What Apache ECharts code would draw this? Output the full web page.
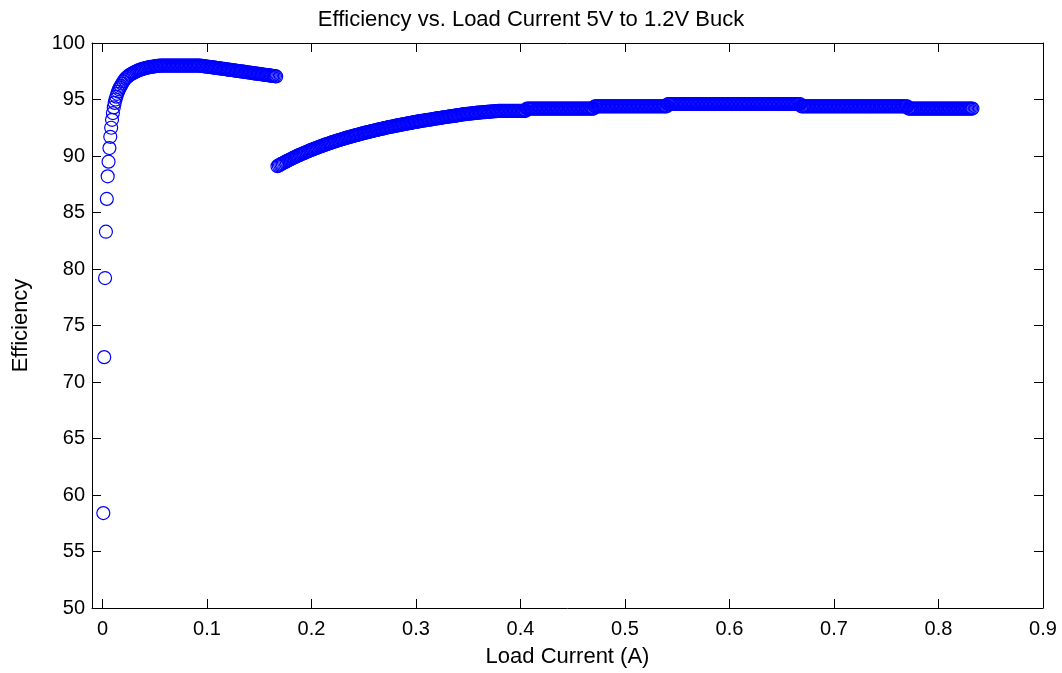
<!DOCTYPE html>
<html>
<head>
<meta charset="utf-8">
<script src="https://cdn.jsdelivr.net/npm/echarts@6/dist/echarts.min.js"></script>
<style>
  html, body { margin: 0; padding: 0; background: #fff; }
  #chart { width: 1062px; height: 673px; }
</style>
</head>
<body>
<div id="chart"></div>
<script>
// light-load segment: current in mA, efficiency in %
var lowMA = [0.83,1.67,2.5,3.33,4.17,5,5.83,6.67,7.5,8.33,
  9.17,10,10.83,11.67,12.5,13.33,14.17,15,15.83,16.67,
  17.5,18.75,20,21.25,22.5,23.75,25,26.25,27.5,28.75,
  30,31.25,32.5,33.75,35,36.25,37.5,38.75,40,41.25,
  42.5,43.75,45,46.25,47.5,48.75,50,51.25,52.5,53.75,
  55,56.25,57.5,58.75,60,61.25,62.5,63.75,65,66.25,
  67.5,68.75,70,71.25,72.5,73.75,75,76.25,77.5,78.75,
  80,81.25,82.5,83.75,85,86.25,87.5,88.75,90,91.25,
  92.5,93.75,95,96.25,97.5,98.75,100,101.25,102.5,103.75,
  105,106.25,107.5,108.75,110,111.25,112.5,113.75,115,116.25,
  117.5,118.75,120,121.25,122.5,123.75,125,126.25,127.5,128.75,
  130,131.25,132.5,133.75,135,136.25,137.5,138.75,140,141.25,
  142.5,143.75,145,146.25,147.5,148.75,150,151.25,152.5,153.75,
  155,156.25,157.5,158.75,160,161.25,162.5,163.75,165,166.25];
var lowEff = [58.4,72.2,79.2,83.3,86.2,88.2,89.5,90.7,91.7,92.5,
  93.2,93.8,94.3,94.7,95.0,95.25,95.5,95.7,95.9,96.05,
  96.2,96.4,96.6,96.75,96.9,97.0,97.1,97.18,97.25,97.32,
  97.38,97.44,97.5,97.55,97.6,97.64,97.68,97.72,97.75,97.78,
  97.81,97.84,97.86,97.88,97.9,97.92,97.94,97.96,97.97,97.98,
  98,98,98,98,98,98,98,98,98,98,
  98,98,98,98,98,98,98,98,98,98,
  98,98,98,98,98,98,98,98,98,98,
  98,97.99,97.97,97.96,97.94,97.93,97.91,97.9,97.88,97.87,
  97.85,97.84,97.82,97.8,97.78,97.77,97.75,97.74,97.72,97.71,
  97.69,97.67,97.65,97.64,97.62,97.61,97.59,97.57,97.55,97.54,
  97.52,97.51,97.49,97.48,97.46,97.44,97.42,97.41,97.39,97.38,
  97.36,97.34,97.32,97.31,97.29,97.28,97.26,97.25,97.23,97.21,
  97.19,97.18,97.16,97.15,97.13,97.11,97.09,97.08,97.06,97.04];

// heavy-load segment: current in mA, efficiency in %
var highMA = [
  167.5,168.75,170,171.25,172.5,173.75,175,176.25,
  177.5,178.75,180,181.25,182.5,183.75,185,186.25,
  187.5,188.75,190,191.25,192.5,193.75,195,196.25,
  197.5,198.75,200,201.25,202.5,203.75,205,206.25,
  207.5,208.75,210,211.25,212.5,213.75,215,216.25,
  217.5,218.75,220,221.25,222.5,223.75,225,226.25,
  227.5,228.75,230,231.25,232.5,233.75,235,236.25,
  237.5,238.75,240,241.25,242.5,243.75,245,246.25,
  247.5,248.75,250,251.25,252.5,253.75,255,256.25,
  257.5,258.75,260,261.25,262.5,263.75,265,266.25,
  267.5,268.75,270,271.25,272.5,273.75,275,276.25,
  277.5,278.75,280,281.25,282.5,283.75,285,286.25,
  287.5,288.75,290,291.25,292.5,293.75,295,296.25,
  297.5,298.75,300,301.25,302.5,303.75,305,306.25,
  307.5,308.75,310,311.25,312.5,313.75,315,316.25,
  317.5,318.75,320,321.25,322.5,323.75,325,326.25,
  327.5,328.75,330,331.25,332.5,333.75,335,336.25,
  337.5,338.75,340,341.25,342.5,343.75,345,346.25,
  347.5,348.75,350,351.25,352.5,353.75,355,356.25,
  357.5,358.75,360,361.25,362.5,363.75,365,366.25,
  367.5,368.75,370,371.25,372.5,373.75,375,376.25,
  377.5,378.75,380,381.25,382.5,383.75,385,386.25,
  387.5,388.75,390,391.25,392.5,393.75,395,396.25,
  397.5,398.75,400,401.25,402.5,403.75,405,406.25,
  407.5,408.75,410,411.25,412.5,413.75,415,416.25,
  417.5,418.75,420,421.25,422.5,423.75,425,426.25,
  427.5,428.75,430,431.25,432.5,433.75,435,436.25,
  437.5,438.75,440,441.25,442.5,443.75,445,446.25,
  447.5,448.75,450,451.25,452.5,453.75,455,456.25,
  457.5,458.75,460,461.25,462.5,463.75,465,466.25,
  467.5,468.75,470,471.25,472.5,473.75,475,476.25,
  477.5,478.75,480,481.25,482.5,483.75,485,486.25,
  487.5,488.75,490,491.25,492.5,493.75,495,496.25,
  497.5,498.75,500,501.25,502.5,503.75,505,506.25,
  507.5,508.75,510,511.25,512.5,513.75,515,516.25,
  517.5,518.75,520,521.25,522.5,523.75,525,526.25,
  527.5,528.75,530,531.25,532.5,533.75,535,536.25,
  537.5,538.75,540,541.25,542.5,543.75,545,546.25,
  547.5,548.75,550,551.25,552.5,553.75,555,556.25,
  557.5,558.75,560,561.25,562.5,563.75,565,566.25,
  567.5,568.75,570,571.25,572.5,573.75,575,576.25,
  577.5,578.75,580,581.25,582.5,583.75,585,586.25,
  587.5,588.75,590,591.25,592.5,593.75,595,596.25,
  597.5,598.75,600,601.25,602.5,603.75,605,606.25,
  607.5,608.75,610,611.25,612.5,613.75,615,616.25,
  617.5,618.75,620,621.25,622.5,623.75,625,626.25,
  627.5,628.75,630,631.25,632.5,633.75,635,636.25,
  637.5,638.75,640,641.25,642.5,643.75,645,646.25,
  647.5,648.75,650,651.25,652.5,653.75,655,656.25,
  657.5,658.75,660,661.25,662.5,663.75,665,666.25,
  667.5,668.75,670,671.25,672.5,673.75,675,676.25,
  677.5,678.75,680,681.25,682.5,683.75,685,686.25,
  687.5,688.75,690,691.25,692.5,693.75,695,696.25,
  697.5,698.75,700,701.25,702.5,703.75,705,706.25,
  707.5,708.75,710,711.25,712.5,713.75,715,716.25,
  717.5,718.75,720,721.25,722.5,723.75,725,726.25,
  727.5,728.75,730,731.25,732.5,733.75,735,736.25,
  737.5,738.75,740,741.25,742.5,743.75,745,746.25,
  747.5,748.75,750,751.25,752.5,753.75,755,756.25,
  757.5,758.75,760,761.25,762.5,763.75,765,766.25,
  767.5,768.75,770,771.25,772.5,773.75,775,776.25,
  777.5,778.75,780,781.25,782.5,783.75,785,786.25,
  787.5,788.75,790,791.25,792.5,793.75,795,796.25,
  797.5,798.75,800,801.25,802.5,803.75,805,806.25,
  807.5,808.75,810,811.25,812.5,813.75,815,816.25,
  817.5,818.75,820,821.25,822.5,823.75,825,826.25,
  827.5,828.75,830,831.25,832.5];
var highEff = [
  89.10,89.17,89.23,89.30,89.36,89.42,89.48,89.54,
  89.60,89.66,89.71,89.77,89.83,89.89,89.94,90.00,
  90.05,90.10,90.15,90.20,90.25,90.30,90.35,90.40,
  90.45,90.50,90.54,90.59,90.63,90.68,90.72,90.77,
  90.81,90.85,90.89,90.94,90.98,91.02,91.06,91.10,
  91.14,91.18,91.22,91.26,91.29,91.33,91.37,91.41,
  91.44,91.48,91.51,91.55,91.58,91.62,91.65,91.68,
  91.71,91.75,91.78,91.81,91.84,91.87,91.90,91.94,
  91.97,92.00,92.03,92.06,92.08,92.11,92.14,92.17,
  92.20,92.23,92.25,92.28,92.31,92.34,92.36,92.39,
  92.41,92.44,92.47,92.50,92.52,92.55,92.57,92.59,
  92.61,92.64,92.66,92.69,92.71,92.74,92.76,92.78,
  92.80,92.83,92.85,92.87,92.89,92.91,92.93,92.96,
  92.98,93.00,93.02,93.04,93.06,93.08,93.10,93.12,
  93.14,93.16,93.18,93.20,93.21,93.23,93.25,93.27,
  93.29,93.31,93.33,93.35,93.36,93.38,93.40,93.42,
  93.43,93.45,93.47,93.49,93.50,93.52,93.53,93.55,
  93.57,93.59,93.60,93.63,93.65,93.67,93.68,93.70,
  93.71,93.73,93.74,93.75,93.76,93.78,93.79,93.80,
  93.81,93.83,93.84,93.85,93.86,93.87,93.88,93.89,
  93.9,93.9,93.92,93.93,93.94,93.95,93.96,93.97,
  93.98,93.99,94,94,94,94,94,94,
  94,94,94,94,94,94,94,94,
  94,94,94,94,94,94,94,94.2,
  94.2,94.2,94.2,94.2,94.2,94.2,94.2,94.2,
  94.2,94.2,94.2,94.2,94.2,94.2,94.2,94.2,
  94.2,94.2,94.2,94.2,94.2,94.2,94.2,94.2,
  94.2,94.2,94.2,94.2,94.2,94.2,94.2,94.2,
  94.2,94.2,94.2,94.2,94.2,94.2,94.2,94.2,
  94.2,94.2,94.2,94.2,94.2,94.2,94.2,94.2,
  94.2,94.2,94.2,94.4,94.4,94.4,94.4,94.4,
  94.4,94.4,94.4,94.4,94.4,94.4,94.4,94.4,
  94.4,94.4,94.4,94.4,94.4,94.4,94.4,94.4,
  94.4,94.4,94.4,94.4,94.4,94.4,94.4,94.4,
  94.4,94.4,94.4,94.4,94.4,94.4,94.4,94.4,
  94.4,94.4,94.4,94.4,94.4,94.4,94.4,94.4,
  94.4,94.4,94.4,94.4,94.4,94.4,94.4,94.4,
  94.4,94.4,94.4,94.6,94.6,94.6,94.6,94.6,
  94.6,94.6,94.6,94.6,94.6,94.6,94.6,94.6,
  94.6,94.6,94.6,94.6,94.6,94.6,94.6,94.6,
  94.6,94.6,94.6,94.6,94.6,94.6,94.6,94.6,
  94.6,94.6,94.6,94.6,94.6,94.6,94.6,94.6,
  94.6,94.6,94.6,94.6,94.6,94.6,94.6,94.6,
  94.6,94.6,94.6,94.6,94.6,94.6,94.6,94.6,
  94.6,94.6,94.6,94.6,94.6,94.6,94.6,94.6,
  94.6,94.6,94.6,94.6,94.6,94.6,94.6,94.6,
  94.6,94.6,94.6,94.6,94.6,94.6,94.6,94.6,
  94.6,94.6,94.6,94.6,94.6,94.6,94.6,94.6,
  94.6,94.6,94.6,94.6,94.6,94.6,94.6,94.6,
  94.6,94.6,94.6,94.6,94.6,94.6,94.6,94.6,
  94.6,94.4,94.4,94.4,94.4,94.4,94.4,94.4,
  94.4,94.4,94.4,94.4,94.4,94.4,94.4,94.4,
  94.4,94.4,94.4,94.4,94.4,94.4,94.4,94.4,
  94.4,94.4,94.4,94.4,94.4,94.4,94.4,94.4,
  94.4,94.4,94.4,94.4,94.4,94.4,94.4,94.4,
  94.4,94.4,94.4,94.4,94.4,94.4,94.4,94.4,
  94.4,94.4,94.4,94.4,94.4,94.4,94.4,94.4,
  94.4,94.4,94.4,94.4,94.4,94.4,94.4,94.4,
  94.4,94.4,94.4,94.4,94.4,94.4,94.4,94.4,
  94.4,94.4,94.4,94.4,94.4,94.4,94.4,94.4,
  94.4,94.4,94.4,94.2,94.2,94.2,94.2,94.2,
  94.2,94.2,94.2,94.2,94.2,94.2,94.2,94.2,
  94.2,94.2,94.2,94.2,94.2,94.2,94.2,94.2,
  94.2,94.2,94.2,94.2,94.2,94.2,94.2,94.2,
  94.2,94.2,94.2,94.2,94.2,94.2,94.2,94.2,
  94.2,94.2,94.2,94.2,94.2,94.2,94.2,94.2,
  94.2,94.2,94.2,94.2,94.2];

var titleText = 'Efficiency vs. Load Current 5V to 1.2V Buck';
var xName = 'Load Current (A)';
var yName = 'Efficiency';

function pairs(ma, eff) {
  var out = [];
  var n = Math.min(ma.length, eff.length);
  for (var i = 0; i < n; i++) out.push([ma[i] / 1000, eff[i]]);
  return out;
}
var data = pairs(lowMA, lowEff).concat(pairs(highMA, highEff));

var chartDom = document.getElementById('chart');
var myChart = echarts.init(chartDom);
var font = 'Liberation Sans, Arial, Helvetica, sans-serif';

var tick = { inside: true, length: 9, lineStyle: { color: '#000', width: 1 } };
var line = { show: true, onZero: false, lineStyle: { color: '#000', width: 1 } };

var option = {
  animation: false,
  backgroundColor: '#fff',
  title: {
    text: titleText,
    left: 'center',
    top: 4,
    textStyle: { fontFamily: font, fontSize: 22, fontWeight: 'normal', color: '#000' }
  },
  grid: { left: 92, right: 19, top: 43, bottom: 63, containLabel: false },
  xAxis: [
    {
      type: 'value', min: -0.01, max: 0.9, splitNumber: 9,
      name: xName, nameLocation: 'middle', nameGap: 38,
      nameTextStyle: { fontFamily: font, fontSize: 22, color: '#000' },
      axisLine: line, axisTick: tick, splitLine: { show: false },
      axisLabel: {
        fontFamily: font, fontSize: 20, color: '#000', margin: 11,
        formatter: function (v) { return v < 0 ? '' : String(+v.toFixed(2)); }
      }
    },
    {
      type: 'value', position: 'top', min: -0.01, max: 0.9, splitNumber: 9,
      axisLine: line, axisTick: tick, axisLabel: { show: false }, splitLine: { show: false }
    }
  ],
  yAxis: [
    {
      type: 'value', min: 50, max: 100, interval: 5,
      name: yName, nameLocation: 'middle', nameGap: 60, nameRotate: 90,
      nameTextStyle: { fontFamily: font, fontSize: 22, color: '#000' },
      axisLine: line, axisTick: tick, splitLine: { show: false },
      axisLabel: { fontFamily: font, fontSize: 20, color: '#000', margin: 7 }
    },
    {
      type: 'value', position: 'right', min: 50, max: 100, interval: 5,
      axisLine: line, axisTick: tick, axisLabel: { show: false }, splitLine: { show: false }
    }
  ],
  series: [
    {
      name: 'Efficiency',
      type: 'scatter',
      xAxisIndex: 0,
      yAxisIndex: 0,
      symbol: 'circle',
      symbolSize: 13,
      itemStyle: { color: 'rgba(0,0,0,0)', borderColor: '#0000ff', borderWidth: 1.2, opacity: 1 },
      emphasis: { disabled: true },
      data: data
    }
  ]
};

option && myChart.setOption(option);
</script>
</body>
</html>
